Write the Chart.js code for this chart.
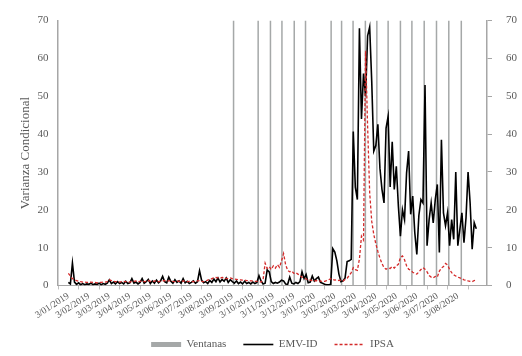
<!DOCTYPE html>
<html>
<head>
<meta charset="utf-8">
<script src="https://cdn.jsdelivr.net/npm/chart.js@4"></script>
<style>
  body { margin: 0; background: #fff; }
  #wrap { width: 522px; height: 356px; }
</style>
</head>
<body>
<div id="wrap"><canvas id="grafico" width="522" height="356"></canvas></div>
<script>
// Etiquetas mensuales del eje X (una por mes desde 3/01/2019)
const etiquetasMes = [
    '3/01/2019', '3/02/2019', '3/03/2019', '3/04/2019', '3/05/2019', '3/06/2019',
    '3/07/2019', '3/08/2019', '3/09/2019', '3/10/2019', '3/11/2019', '3/12/2019',
    '3/01/2020', '3/02/2020', '3/03/2020', '3/04/2020', '3/05/2020', '3/06/2020',
    '3/07/2020', '3/08/2020'
];

// Separacion entre observaciones, en meses
const paso = 0.1;

// Fechas de las ventanas (en meses desde 3/01/2019)
const ventanas = [8.06, 9.26, 9.86, 10.42, 11.02, 11.57, 12.82, 13.33, 13.89,
    14.49, 15.05, 15.60, 16.20, 16.76, 17.36, 17.96, 18.56, 19.17];

// Varianza condicional EMV-ID
const emvId = [
    0.8, 0.4, 5.9, 0.9, 0.3, 0.7, 0.2, 0.5, 0.2, 0.4,
    0.3, 0.6, 0.2, 0.4, 0.3, 0.6, 0.2, 0.5, 0.3, 0.6,
    1.5, 0.5, 0.9, 0.4, 1.0, 0.5, 0.8, 0.4, 1.1, 0.5,
    0.7, 1.8, 0.6, 0.9, 0.4, 0.8, 1.8, 0.6, 1.0, 1.6,
    0.5, 1.2, 0.6, 1.4, 0.7, 1.2, 2.4, 1.0, 0.7, 2.2,
    1.1, 0.6, 1.5, 0.8, 1.2, 0.6, 1.8, 0.7, 1.1, 0.5,
    0.8, 1.2, 0.6, 1.0, 3.9, 1.4, 0.7, 1.0, 0.5, 1.3,
    0.8, 1.7, 1.0, 2.0, 0.9, 1.6, 1.1, 2.0, 0.8, 1.5,
    1.0, 0.6, 1.2, 0.5, 0.9, 0.4, 1.1, 0.5, 0.8, 0.4,
    0.9, 0.5, 0.8, 2.6, 1.2, 0.4, 0.6, 4.1, 3.6, 1.0,
    0.5, 0.8, 0.6, 0.9, 1.4, 1.2, 0.4, 0.3, 2.2, 0.6,
    0.4, 0.8, 0.5, 1.0, 3.6, 1.8, 2.9, 0.7, 0.9, 2.5,
    1.2, 1.8, 2.2, 0.8, 0.6, 0.3, 0.2, 0.2, 0.3, 9.7,
    8.8, 6.5, 3.0, 1.0, 1.2, 2.0, 6.3, 6.5, 6.9, 40.7,
    26, 22.7, 68, 44, 56, 50, 66, 68.3, 54, 35.5,
    37, 42.6, 31, 25.4, 21.8, 41.6, 44.7, 26, 38, 25.4,
    31.5, 21, 13, 20, 17.4, 29.7, 35.5, 18.8, 23.6, 14,
    8.2, 18.5, 22.7, 21.8, 53, 10.5, 17.4, 21.8, 16.5, 22.7,
    26.7, 8.7, 38.5, 19.2, 15.8, 19.2, 10.5, 17.4, 12.2, 30,
    10.5, 14.8, 19.2, 11.3, 17.9, 30, 21.8, 9.6, 16.6, 15
];

// Varianza condicional IPSA
const ipsa = [
    3.2, 2.5, 1.8, 1.5, 1.3, 1.1, 1.0, 0.9, 0.9, 0.8,
    0.8, 0.9, 0.8, 0.8, 0.7, 0.8, 0.8, 0.9, 0.9, 1.0,
    1.5, 1.3, 1.1, 1.0, 1.0, 0.9, 1.0, 1.1, 1.0, 1.0,
    0.9, 1.0, 1.1, 1.2, 1.0, 1.1, 1.2, 1.0, 1.1, 1.3,
    1.1, 1.0, 1.2, 1.1, 1.0, 1.1, 1.2, 1.3, 1.1, 1.2,
    1.3, 1.1, 1.0, 1.2, 1.1, 1.0, 1.2, 1.1, 1.0, 1.1,
    1.0, 1.1, 1.0, 1.2, 1.3, 1.1, 1.0, 1.2, 1.4, 1.6,
    1.8, 2.0, 2.1, 2.0, 1.9, 2.1, 2.0, 1.8, 1.9, 2.0,
    1.8, 1.7, 1.6, 1.5, 1.5, 1.4, 1.4, 1.3, 1.3, 1.2,
    1.2, 1.1, 1.1, 1.0, 0.9, 1.5, 5.9, 4.5, 5.0, 4.2,
    5.2, 4.6, 5.5, 4.8, 6.5, 8.4, 5.5, 4.0, 3.6, 3.8,
    3.2, 3.4, 3.0, 2.6, 2.2, 2.0, 1.7, 1.5, 1.4, 1.3,
    1.2, 1.3, 1.1, 1.2, 1.0, 1.1, 1.3, 1.5, 1.8, 1.6,
    1.4, 1.5, 1.3, 1.4, 1.2, 1.6, 1.9, 2.6, 3.4, 4.7,
    4.2, 4.0, 7.0, 13, 12, 62, 42, 24.5, 17, 13.5,
    11, 9, 7.2, 5.8, 4.7, 4.3, 4.6, 4.5, 5.0, 4.6,
    5.2, 5.6, 7.4, 7.8, 6.8, 5.2, 4.3, 4.0, 3.5, 3.2,
    3.0, 3.6, 4.2, 4.7, 4.3, 3.6, 2.6, 2.2, 2.0, 2.4,
    2.2, 3.8, 4.6, 5.0, 5.8, 5.4, 4.2, 3.4, 2.8, 2.5,
    2.2, 2.0, 1.8, 1.5, 1.4, 1.2, 1.1, 1.0, 1.3, 1.5
];

const yMax = 70;
const serif = 'Liberation Serif';
const gris = '#595959';

document.addEventListener('DOMContentLoaded', () => {
    const ctx = document.getElementById('grafico').getContext('2d');

    const datasets = [
        {
            type: 'bar',
            label: 'Ventanas',
            data: ventanas.map(x => ({ x: x, y: yMax })),
            backgroundColor: '#a5a8a8',
            borderWidth: 0,
            barThickness: 1.5,
            inflateAmount: 0,
            order: 3,
        },
        {
            type: 'line',
            label: 'EMV-ID',
            data: emvId.map((v, i) => ({ x: i * paso, y: v })),
            borderColor: '#000000',
            backgroundColor: '#000000',
            borderWidth: 1.6,
            pointRadius: 0,
            tension: 0,
            order: 2,
        },
        {
            type: 'line',
            label: 'IPSA',
            data: ipsa.map((v, i) => ({ x: i * paso, y: v })),
            borderColor: '#d42a2a',
            backgroundColor: '#d42a2a',
            borderWidth: 1.3,
            borderDash: [3, 2],
            pointRadius: 0,
            tension: 0,
            order: 1,
        },
    ];

    new Chart(ctx, {
        type: 'line',
        data: { datasets: datasets },
        options: {
            responsive: false,
            animation: false,
            layout: { padding: { left: 14, right: -9, top: 9, bottom: -4 } },
            plugins: {
                tooltip: { enabled: false },
                legend: {
                    position: 'bottom',
                    labels: {
                        usePointStyle: true,
                        pointStyleWidth: 30,
                        boxHeight: 5,
                        padding: 17,
                        color: gris,
                        font: { family: serif, size: 11 },
                        generateLabels: chart => chart.data.datasets.map((ds, i) => ({
                            text: ds.label,
                            datasetIndex: i,
                            fillStyle: ds.backgroundColor,
                            strokeStyle: ds.borderColor || ds.backgroundColor,
                            lineWidth: i === 0 ? 0 : ds.borderWidth,
                            lineDash: ds.borderDash || [],
                            pointStyle: i === 0 ? 'rect' : 'line',
                            fontColor: gris,
                            hidden: false,
                        })),
                    },
                },
            },
            scales: {
                x: {
                    type: 'linear',
                    min: 0,
                    max: 19.9,
                    grid: { drawOnChartArea: false, tickLength: 4, color: '#bfbfbf' },
                    border: { color: '#a6a6a6', width: 1 },
                    ticks: {
                        stepSize: 1,
                        includeBounds: false,
                        autoSkip: false,
                        minRotation: 33,
                        maxRotation: 33,
                        padding: 1,
                        color: gris,
                        font: { family: serif, size: 9.5 },
                        callback: v => etiquetasMes[v] || '',
                    },
                },
                y: {
                    position: 'left',
                    min: 0,
                    max: yMax,
                    grid: { drawOnChartArea: false, drawTicks: false },
                    border: { color: '#a6a6a6', width: 1.5 },
                    ticks: {
                        stepSize: 10,
                        padding: 9,
                        color: gris,
                        font: { family: serif, size: 11 },
                    },
                    title: {
                        display: true,
                        text: 'Varianza Condicional',
                        color: gris,
                        padding: { top: 4, bottom: -5 },
                        font: { family: serif, size: 13 },
                    },
                },
                y2: {
                    position: 'right',
                    min: 0,
                    max: yMax,
                    grid: { drawOnChartArea: false, tickLength: 5, color: '#a6a6a6' },
                    border: { color: '#a6a6a6', width: 1.5 },
                    ticks: {
                        stepSize: 10,
                        padding: 14,
                        color: gris,
                        font: { family: serif, size: 11 },
                    },
                },
            },
        },
    });
});
</script>
</body>
</html>
